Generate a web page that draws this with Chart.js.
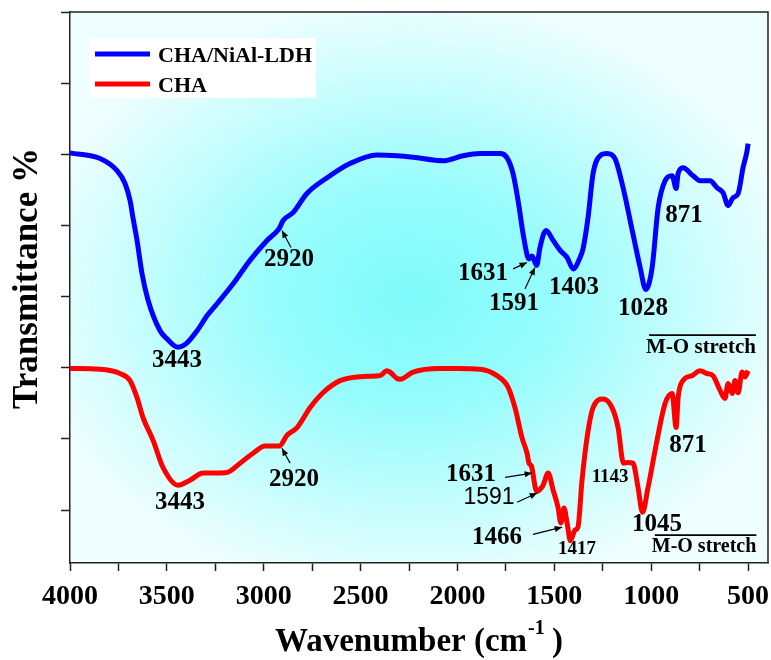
<!DOCTYPE html>
<html lang="en">
<head>
<meta charset="UTF-8">
<title>FTIR spectra</title>
<script src="https://cdn.jsdelivr.net/npm/chart.js"></script>
<style>
  html, body { margin: 0; padding: 0; background: #fff; }
  #wrap { width: 771px; height: 660px; }
</style>
</head>
<body>
<div id="wrap"><canvas id="ftir" width="771" height="660"></canvas></div>
<script>
// CHA/NiAl-LDH spectrum (wavenumber in cm-1, transmittance in arbitrary offset units)
const ldhWavenumber = [4000, 3845, 3757, 3716, 3690, 3675, 3654, 3628, 3597, 3535, 3500, 3443, 3400, 3344,
  3293, 3241, 3158, 3071, 2983, 2920, 2900, 2849, 2777, 2673, 2555, 2415, 2312, 2229, 2074, 1971, 1883,
  1780, 1744, 1713, 1687, 1661, 1640, 1631, 1615, 1591, 1574, 1543, 1506, 1470, 1434, 1403, 1367, 1352,
  1326, 1300, 1264, 1228, 1187, 1145, 1094, 1057, 1028, 995, 964, 928, 892, 871, 861, 836, 784, 748, 696,
  660, 629, 603, 578, 551, 526, 505, 500];
const ldhTransmittance = [50.2, 49.4, 47.7, 45.9, 43.5, 41.1, 37.9, 33.2, 29.5, 25.2, 24.1, 22.9, 23.4, 25.2,
  27.3, 29.0, 31.8, 35.1, 37.9, 39.6, 40.7, 41.8, 44.5, 46.7, 48.7, 49.9, 49.8, 49.6, 49.1, 49.8, 50.1,
  50.1, 49.5, 47.3, 43.5, 38.8, 35.8, 35.3, 35.7, 34.4, 36.9, 39.3, 37.9, 36.5, 35.5, 33.9, 35.5, 36.7,
  41.1, 47.3, 49.8, 50.1, 49.4, 45.3, 38.8, 34.1, 31.0, 34.1, 42.5, 46.3, 47.0, 45.2, 47.3, 48.1, 47.0, 46.3, 46.3,
  45.3, 44.6, 42.8, 43.9, 44.5, 48.1, 50.5, 51.5];

// CHA spectrum
const chaWavenumber = [4000, 3845, 3742, 3690, 3654, 3623, 3571, 3520, 3443, 3381, 3313, 3262, 3190, 3122,
  3055, 2993, 2920, 2880, 2828, 2761, 2694, 2606, 2467, 2400, 2364, 2348, 2312, 2296, 2229, 2090, 2002,
  1883, 1796, 1739, 1703, 1667, 1641, 1631, 1618, 1600, 1591, 1574, 1558, 1532, 1506, 1481, 1466, 1450,
  1434, 1417, 1393, 1378, 1357, 1331, 1300, 1249, 1202, 1171, 1143, 1119, 1094, 1068, 1045, 1016, 970,
  928, 892, 871, 861, 836, 789, 748, 712, 681, 644, 619, 603, 582, 567, 551, 531, 515, 500];
const chaTransmittance = [19.9, 19.8, 19.2, 18.2, 15.8, 13.0, 9.8, 6.0, 3.5, 4.2, 5.2, 5.2, 5.3, 6.6,
  8.0, 9.0, 9.0, 10.5, 11.6, 14.4, 16.5, 18.2, 18.8, 18.9, 19.6, 19.4, 18.5, 18.4, 19.4, 19.9, 19.9,
  19.8, 18.9, 17.3, 14.4, 10.2, 8.0, 6.6, 6.2, 3.4, 2.6, 2.9, 3.5, 5.2, 2.8, 0.4, -1.8, 0.3,
  -1.8, -4.3, -2.8, -2.4, 4.2, 10.2, 14.4, 15.6, 14.4, 11.6, 6.6, 6.7, 6.6, 3.2, -0.3, 3.2, 9.8,
  15.0, 16.4, 11.6, 15.8, 18.2, 18.9, 19.6, 19.2, 18.9, 16.8, 15.7, 17.8, 16.4, 18.2, 16.5, 19.4, 18.7, 19.6];

const xMajorTicks = [4000, 3500, 3000, 2500, 2000, 1500, 1000, 500];
const xMinorTicks = [3750, 3250, 2750, 2250, 1750, 1250, 750];
const yTickValues = [0, 10, 20, 30, 40, 50, 60, 70];

// peak labels: text, wavenumber, transmittance, kind
const peakLabels = [
  ['3443', 3448, 21.0, 'peak'],
  ['2920', 2869, 35.2, 'peak'],
  ['1631', 1868, 33.2, 'peak'],
  ['1591', 1708, 29.0, 'peak'],
  ['1403', 1398, 31.3, 'peak'],
  ['1028', 1042, 28.3, 'peak'],
  ['871', 830, 41.4, 'peak'],
  ['M-O stretch', 743, 22.9, 'band'],
  ['3443', 3432, 1.1, 'peak'],
  ['2920', 2844, 4.3, 'peak'],
  ['1631', 1930, 5.0, 'peak'],
  ['1591', 1837, 1.8, 'plain'],
  ['1466', 1796, -3.9, 'peak'],
  ['1417', 1383, -5.5, 'small'],
  ['1143', 1212, 4.6, 'small'],
  ['1045', 970, -2.0, 'peak'],
  ['871', 810, 9.1, 'peak'],
  ['M-O stretch', 727, -5.2, 'bandSmall']
];

// arrows: from (wavenumber, transmittance) to (wavenumber, transmittance)
const peakArrows = [
  [2859, 36.9, 2906, 39.3],
  [1713, 33.9, 1641, 34.8],
  [1651, 31.1, 1600, 34.1],
  [2864, 6.6, 2906, 8.7],
  [1754, 4.6, 1615, 5.2],
  [1692, 1.1, 1589, 2.4],
  [1610, -3.4, 1460, -2.4]
];

const SERIF = "'Liberation Serif', 'Times New Roman', serif";
const SANS = "'Liberation Sans', Arial, sans-serif";

const labelFonts = {
  peak: 'bold 25px ' + SERIF,
  small: 'bold 19px ' + SERIF,
  plain: '23px ' + SANS,
  band: 'bold 21px ' + SERIF,
  bandSmall: 'bold 20px ' + SERIF
};

function toPoints(xs, ys) {
  return xs.map((x, i) => ({ x: x, y: ys[i] }));
}

const decor = {
  id: 'decor',
  beforeDraw(chart) {
    const ctx = chart.ctx;
    const a = chart.chartArea;
    ctx.save();
    ctx.fillStyle = '#fff';
    ctx.fillRect(0, 0, chart.width, chart.height);
    // soft cyan glow behind the plot
    ctx.beginPath();
    ctx.rect(a.left, a.top, a.right - a.left, a.bottom - a.top);
    ctx.clip();
    ctx.translate(a.left + (a.right - a.left) * 0.49, a.top + (a.bottom - a.top) * 0.52);
    ctx.scale(1.3, 1);
    const g = ctx.createRadialGradient(0, 0, 0, 0, 0, 300);
    g.addColorStop(0, '#7ffbfb');
    g.addColorStop(0.35, '#95fcfc');
    g.addColorStop(1, '#effefe');
    ctx.fillStyle = g;
    ctx.fillRect(-1000, -1000, 2000, 2000);
    ctx.restore();
  },
  afterDatasetsDraw(chart) {
    const ctx = chart.ctx;
    const a = chart.chartArea;
    const xs = chart.scales.x;
    const ys = chart.scales.y;
    ctx.save();

    // top and right frame
    ctx.strokeStyle = '#222';
    ctx.lineWidth = 1.5;
    ctx.beginPath();
    ctx.moveTo(a.left, a.top);
    ctx.lineTo(a.right, a.top);
    ctx.lineTo(a.right, a.bottom);
    ctx.stroke();

    // legend box
    const lx = a.left + 19, ly = a.top + 26;
    ctx.fillStyle = '#fff';
    ctx.fillRect(lx, ly, 227, 60);
    chart.data.datasets.forEach((ds, i) => {
      const yy = ly + 16 + i * 30;
      ctx.strokeStyle = ds.borderColor;
      ctx.lineWidth = 5;
      ctx.beginPath();
      ctx.moveTo(lx + 6, yy);
      ctx.lineTo(lx + 61, yy);
      ctx.stroke();
      ctx.fillStyle = '#000';
      ctx.font = 'bold 22px ' + SERIF;
      ctx.textAlign = 'left';
      ctx.textBaseline = 'middle';
      ctx.fillText(ds.label, lx + 69, yy + 2);
    });

    // peak labels
    ctx.fillStyle = '#000';
    ctx.textAlign = 'center';
    ctx.textBaseline = 'middle';
    peakLabels.forEach(([text, w, v, kind]) => {
      const px = xs.getPixelForValue(w);
      const py = ys.getPixelForValue(v);
      ctx.font = labelFonts[kind];
      ctx.fillText(text, px, py);
      if (kind === 'band' || kind === 'bandSmall') {
        const tw = ctx.measureText(text).width;
        ctx.strokeStyle = '#000';
        ctx.lineWidth = 1.6;
        ctx.beginPath();
        ctx.moveTo(px - tw / 2 + 3, py - 12);
        ctx.lineTo(px + tw / 2, py - 12);
        ctx.stroke();
      }
    });

    // arrows
    ctx.strokeStyle = '#000';
    ctx.lineWidth = 1.2;
    peakArrows.forEach(([w1, v1, w2, v2]) => {
      const x1 = xs.getPixelForValue(w1), y1 = ys.getPixelForValue(v1);
      const x2 = xs.getPixelForValue(w2), y2 = ys.getPixelForValue(v2);
      const ang = Math.atan2(y2 - y1, x2 - x1);
      ctx.beginPath();
      ctx.moveTo(x1, y1);
      ctx.lineTo(x2, y2);
      ctx.stroke();
      ctx.beginPath();
      ctx.moveTo(x2, y2);
      ctx.lineTo(x2 - 8 * Math.cos(ang - 0.4), y2 - 8 * Math.sin(ang - 0.4));
      ctx.lineTo(x2 - 8 * Math.cos(ang + 0.4), y2 - 8 * Math.sin(ang + 0.4));
      ctx.closePath();
      ctx.fill();
    });

    // axis titles
    ctx.fillStyle = '#000';
    ctx.font = 'bold 35px ' + SERIF;
    ctx.save();
    ctx.translate(28, (a.top + a.bottom) / 2 - 9);
    ctx.rotate(-Math.PI / 2);
    ctx.textAlign = 'center';
    ctx.textBaseline = 'middle';
    ctx.fillText('Transmittance %', 0, 0);
    ctx.restore();

    const main = 'Wavenumber (cm', sup = '-1', tail = ' )';
    ctx.font = 'bold 33px ' + SERIF;
    const w1 = ctx.measureText(main).width;
    const w3 = ctx.measureText(tail).width;
    ctx.font = 'bold 20px ' + SERIF;
    const w2 = ctx.measureText(sup).width;
    let x0 = (a.left + a.right) / 2 - (w1 + w2 + w3) / 2;
    const base = 651;
    ctx.textAlign = 'left';
    ctx.textBaseline = 'alphabetic';
    ctx.font = 'bold 33px ' + SERIF;
    ctx.fillText(main, x0, base);
    ctx.font = 'bold 20px ' + SERIF;
    ctx.fillText(sup, x0 + w1 + 1, base - 17);
    ctx.font = 'bold 33px ' + SERIF;
    ctx.fillText(tail, x0 + w1 + w2, base);
    ctx.restore();
  }
};

new Chart(document.getElementById('ftir'), {
  type: 'line',
  data: {
    datasets: [
      {
        label: 'CHA/NiAl-LDH',
        data: toPoints(ldhWavenumber, ldhTransmittance),
        borderColor: '#0000ff',
        borderWidth: 5,
        pointRadius: 0,
        cubicInterpolationMode: 'monotone',
        fill: false
      },
      {
        label: 'CHA',
        data: toPoints(chaWavenumber, chaTransmittance),
        borderColor: '#ff0000',
        borderWidth: 5,
        pointRadius: 0,
        cubicInterpolationMode: 'monotone',
        fill: false
      }
    ]
  },
  options: {
    responsive: false,
    animation: false,
    devicePixelRatio: 1,
    layout: { padding: { top: 12, right: 3, left: 0, bottom: 0 } },
    plugins: { legend: { display: false }, tooltip: { enabled: false } },
    scales: {
      x: {
        type: 'linear',
        reverse: true,
        min: 397,
        max: 4000,
        afterBuildTicks: s => {
          s.ticks = xMajorTicks.concat(xMinorTicks).sort((p, q) => q - p).map(v => ({ value: v }));
        },
        afterFit: s => {
          s.height = 97;
          s.paddingLeft = 0;
          s.paddingRight = 0;
        },
        ticks: {
          autoSkip: false,
          maxRotation: 0,
          padding: 9,
          color: '#000',
          font: { family: SERIF, weight: 'bold', size: 28 },
          callback: v => (xMajorTicks.includes(v) ? String(v) : '')
        },
        grid: { drawOnChartArea: false, tickLength: 8, tickColor: '#222', tickWidth: 1.5 },
        border: { color: '#222', width: 1.5 }
      },
      y: {
        min: -7.43,
        max: 70,
        afterBuildTicks: s => { s.ticks = yTickValues.map(v => ({ value: v })); },
        afterFit: s => { s.width = 70; },
        ticks: { display: false },
        grid: { drawOnChartArea: false, tickLength: 9, tickColor: '#222', tickWidth: 1.5 },
        border: { color: '#222', width: 1.5 }
      }
    }
  },
  plugins: [decor]
});
</script>
</body>
</html>
